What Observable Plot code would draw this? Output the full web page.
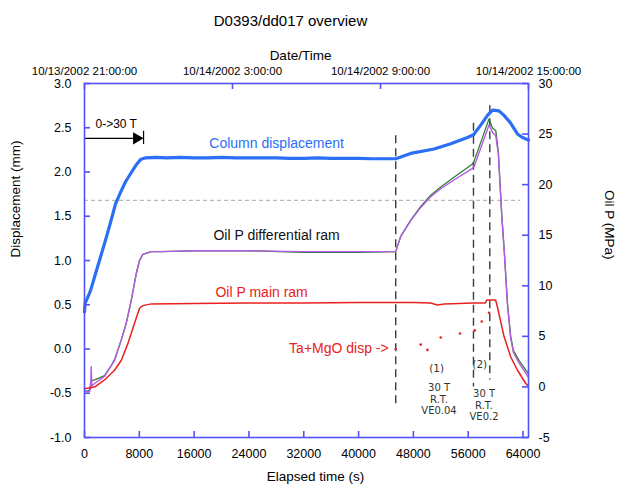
<!DOCTYPE html>
<html><head><meta charset="utf-8">
<script src="https://cdn.jsdelivr.net/npm/d3@7"></script>
<script src="https://cdn.jsdelivr.net/npm/@observablehq/plot@0.6"></script>
<style>body{margin:0;background:#fff;} svg{display:block}</style>
</head><body><div id="chart"></div>
<script>
// ---- Column displacement (mm) ----
const colT = [0,100,394,876,1606,2337,3067,3797,4527,5257,5988,6718,7448,8178,8908,10500,12000,14000,16000,18000,20000,22000,24000,26000,28000,30000,32000,34000,36000,38000,40000,42000,44000,45420,47610,51010,53450,55890,56770,57830,58810,59540,60500,61230,62210,63190,63920,64800];
const colMm = [0.42,0.52,0.57,0.66,0.85,1.04,1.23,1.43,1.64,1.77,1.89,1.98,2.07,2.14,2.16,2.165,2.16,2.165,2.16,2.16,2.165,2.16,2.16,2.16,2.16,2.155,2.155,2.16,2.155,2.155,2.155,2.15,2.15,2.15,2.21,2.26,2.32,2.39,2.42,2.53,2.64,2.70,2.69,2.64,2.55,2.43,2.39,2.36];

// ---- Oil P differential ram, trace 1 (purple, MPa) ----
const purpleT = [0,730,876,980,1070,1460,2920,4381,5360,6090,6820,7550,8032,8514,9740,11100,16000,24000,32000,40000,45420,46150,47610,49070,50530,51990,53930,56620,56850,59040,59540,60020,60400,60900,61300,61730,62200,62600,63430,64800];
const purpleP = [-0.45,-0.45,-0.19,2.0,0.08,0.34,1.04,2.61,4.63,6.29,8.56,11.19,12.5,13.11,13.38,13.38,13.46,13.46,13.38,13.38,13.38,14.86,16.44,17.75,18.8,19.59,20.46,21.6,21.78,25.89,25.19,24.84,23.0,16.88,12.94,8.13,4.8,3.4,2.35,0.95];

// ---- Oil P differential ram, trace 2 (green, MPa) ----
const greenT = [0,700,980,1460,2200,2920,3800,4381,5360,6090,6820,7550,8032,8514,9740,11100,16000,24000,32000,40000,45420,46150,47610,49070,50530,51990,53930,56620,56850,59040,59540,60020,60400,60900,61300,61730,62200,62600,63430,64800];
const greenP = [-0.45,-0.36,0.6,0.69,0.9,1.13,2.0,2.7,4.63,6.29,8.56,11.19,12.5,13.11,13.38,13.38,13.46,13.46,13.3,13.3,13.38,14.9,16.5,17.85,18.95,19.76,20.73,22.04,22.3,26.5,25.6,25.36,23.2,17.0,13.1,8.3,5.0,3.6,2.6,1.3];

// ---- Oil P main ram (red, MPa) ----
const mainT = [0,1460,2920,4381,5360,6330,7300,8032,8514,9740,16000,24000,32000,40000,48000,50500,51500,52500,56700,58500,58700,60000,60270,61230,62210,63190,64400,64800];
const mainP = [-0.19,-0.01,0.69,1.65,2.61,4.28,6.29,7.78,8.04,8.21,8.25,8.3,8.3,8.34,8.34,8.3,8.1,8.2,8.3,8.3,8.6,8.6,7.9,4.98,2.96,1.65,0.34,0.08];

// ---- Ta+MgO displacement points (plotted on mm axis) ----
const taT = [45420,49070,50050,51990,54810,56960,57980,59040];
const taMm = [0.0,0.05,-0.01,0.13,0.175,0.21,0.31,0.41];

// ---- vertical event markers ----
const eventT = [45420,56770,59150];
const eventTop = [2.41,2.55,2.75];
const eventBot = [-0.63,-0.43,-0.35];

// ---- reference level ----
const refLevelMm = 1.68;
const refLevelEnd = 63670;

// ---- axes ----
const leftTicks = [-1,-0.5,0,0.5,1,1.5,2,2.5,3];
const rightTicks = [-5,0,5,10,15,20,25,30];
const bottomTicks = [0,8000,16000,24000,32000,40000,48000,56000,64000];
const topTicks = [0,21600,43200,64800];
const topLabels = ["10/13/2002 21:00:00","10/14/2002 3:00:00","10/14/2002 9:00:00","10/14/2002 15:00:00"];

// ---- annotations (data coordinates) ----
const seriesLabelText = ["Column displacement","Oil P differential ram","Oil P main ram"];
const seriesLabelT = [28040,28040,25850];
const seriesLabelMm = [2.32,1.28,0.64];
const taLabel = {t: 44400, mm: 0.0, text: "Ta+MgO disp ->"};
const rampLabel = {t: 1600, mm: 2.54, text: "0->30 T"};
const rampArrow = {t1: 0, t2: 8330, mm: 2.38, head: 7600, bar: 8620, barLo: 2.31, barHi: 2.46};
const stepNums = [{t: 51400, mm: -0.22, text: "(1)"}, {t: 57690, mm: -0.18, text: "(2)"}];
const stepConds = [{t: 51740, mm: -0.567, text: "30 T\nR.T.\nVE0.04"}, {t: 58310, mm: -0.634, text: "30 T\nR.T.\nVE0.2"}];

const toMm = p => (p - 3.75) / 8.75;
const zip = (t, v) => t.map((x, i) => ({t: x, v: v[i]}));
const col = zip(colT, colMm);
const purple = zip(purpleT, purpleP);
const green = zip(greenT, greenP);
const main = zip(mainT, mainP);
const ta = zip(taT, taMm);
const events = eventT.map((t, i) => ({t, top: eventTop[i], bot: eventBot[i]}));
const seriesLabels = seriesLabelText.map((text, i) => ({text, t: seriesLabelT[i], mm: seriesLabelMm[i]}));

const AXIS = "#5252f5";
const BLUE = "#2a6ff5";
const PURPLE = "#b35be3";
const GREEN = "#2f7d32";
const RED = "#ea2020";
const font = "'Liberation Sans', Arial, Helvetica, sans-serif";
const small = "'DejaVu Sans', Verdana, sans-serif";

const H = 488 - 83 - 51, W = 617 - 84 - 89;

const chart = Plot.plot({
  width: 617, height: 488,
  marginLeft: 84, marginRight: 89, marginTop: 83, marginBottom: 51,
  style: {fontFamily: font, fontSize: "12.5px", background: "#fff", color: "#000"},
  x: {domain: [0, 64800], axis: null},
  y: {domain: [-1, 3], axis: null},
  marks: [
    Plot.ruleY([{y: refLevelMm, x1: 0, x2: refLevelEnd}], {y: "y", x1: "x1", x2: "x2", stroke: "#a8a8a8", strokeWidth: 1, strokeDasharray: "4,3"}),
    Plot.ruleX(events, {x: "t", y1: "top", y2: "bot", stroke: "#3c3c3c", strokeWidth: 1.4, strokeDasharray: "8,5"}),
    Plot.line(green, {x: "t", y: d => toMm(d.v), stroke: GREEN, strokeWidth: 1.3}),
    Plot.line(purple, {x: "t", y: d => toMm(d.v), stroke: PURPLE, strokeWidth: 1.4}),
    Plot.line(main, {x: "t", y: d => toMm(d.v), stroke: RED, strokeWidth: 1.5}),
    Plot.line(col, {x: "t", y: "v", stroke: BLUE, strokeWidth: 3.2, curve: "linear"}),
    Plot.dot(ta, {x: "t", y: "v", r: 1.3, fill: RED, stroke: null}),
    // ramp arrow
    Plot.ruleY([rampArrow], {y: "mm", x1: "t1", x2: "t2", stroke: "#000", strokeWidth: 1.2}),
    Plot.dot([rampArrow], {x: "head", y: "mm", symbol: "triangle", rotate: 90, r: 4.5, fill: "#000", stroke: null}),
    Plot.ruleX([rampArrow], {x: "bar", y1: "barLo", y2: "barHi", stroke: "#000", strokeWidth: 1.2}),
    Plot.text([rampLabel], {x: "t", y: "mm", text: "text", textAnchor: "start", fontSize: 12, fill: "#000"}),
    // series labels
    Plot.text(seriesLabels.slice(0,1), {x: "t", y: "mm", text: "text", fontSize: 14, fill: BLUE}),
    Plot.text(seriesLabels.slice(1,2), {x: "t", y: "mm", text: "text", fontSize: 14, fill: "#111"}),
    Plot.text(seriesLabels.slice(2,3), {x: "t", y: "mm", text: "text", fontSize: 14, fill: RED}),
    Plot.text([taLabel], {x: "t", y: "mm", text: "text", textAnchor: "end", fontSize: 14, fill: RED}),
    Plot.text(stepNums, {x: "t", y: "mm", text: "text", fontSize: 10.5, fontFamily: small, fill: "#333"}),
    Plot.text(stepConds, {x: "t", y: "mm", text: "text", fontSize: 10, lineHeight: 1.15, fontFamily: small, fill: "#333"}),
    // frame & inward ticks
    Plot.frame({stroke: AXIS, strokeWidth: 1.6}),
    Plot.tickX(bottomTicks, {x: d => d, insetTop: H - 6, stroke: AXIS, strokeWidth: 1.6}),
    Plot.tickX(topTicks, {x: d => d, insetBottom: H - 6, stroke: AXIS, strokeWidth: 1.6}),
    Plot.tickY(leftTicks, {y: d => d, insetRight: W - 6, stroke: AXIS, strokeWidth: 1.6}),
    Plot.tickY(rightTicks.map(toMm), {y: d => d, insetLeft: W - 6, stroke: AXIS, strokeWidth: 1.6}),
    // axes labels
    Plot.axisY(leftTicks, {anchor: "left", tickSize: 0, tickPadding: 13, tickFormat: d => d.toFixed(1), label: null, fontSize: 12.5}),
    Plot.axisY(rightTicks.map(toMm), {anchor: "right", tickSize: 0, tickPadding: 10, tickFormat: d => String(Math.round(d * 8.75 + 3.75)), label: null, fontSize: 12.5}),
    Plot.axisX(bottomTicks, {anchor: "bottom", tickSize: 0, tickPadding: 12, tickFormat: d => String(d), label: null, fontSize: 12.5}),
    Plot.axisX(topTicks, {anchor: "top", tickSize: 0, tickPadding: 9, tickFormat: d => topLabels[topTicks.indexOf(d)], label: null, fontSize: 11.5}),
    // titles
    Plot.text(["D0393/dd017 overview"], {frameAnchor: "top", dy: -68, dx: -16, fontSize: 15}),
    Plot.text(["Date/Time"], {frameAnchor: "top", dy: -33, dx: -6, fontSize: 13.5}),
    Plot.text(["Elapsed time (s)"], {frameAnchor: "bottom", dy: 43, dx: 9, fontSize: 13.5}),
    Plot.text(["Displacement (mm)"], {frameAnchor: "left", rotate: -90, dx: -69, dy: -3, fontSize: 13.5}),
    Plot.text(["Oil P (MPa)"], {frameAnchor: "right", rotate: 90, dx: 81, dy: -1, fontSize: 13.5})
  ]
});
document.getElementById("chart").appendChild(chart);
</script>
</body></html>
